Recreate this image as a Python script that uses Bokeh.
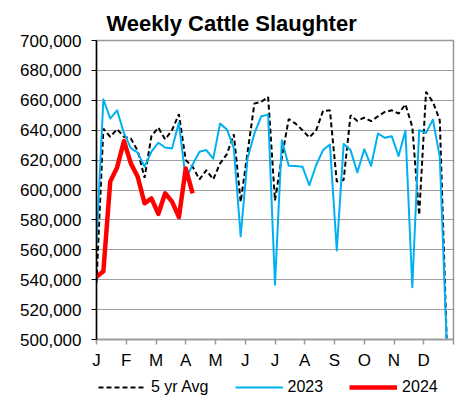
import numpy as np
from bokeh.plotting import figure
from bokeh.layouts import column
from bokeh.models import (ColumnDataSource, FixedTicker, NumeralTickFormatter,
                          Legend, LegendItem, Range1d)
from bokeh.embed import file_html
from bokeh.resources import INLINE

# ---------------- data ----------------
weeks = list(range(1, 53))
month_labels = ["J", "F", "M", "A", "M", "J", "J", "A", "S", "O", "N", "D"]

avg_5yr = [538000, 641000, 635600, 640700, 635600, 634400, 626200, 608200, 636000, 641800,
           633800, 640000, 650700, 620000, 615600, 607100, 613300, 607100, 617800, 624000,
           637300, 592000, 625000, 657800, 659000, 662200, 593000, 622000, 647500, 644400,
           640000, 635100, 640000, 652900, 653300, 605600, 606700, 650000, 646200, 648400,
           646000, 649300, 652200, 653300, 651100, 657300, 642200, 583300, 665600, 658900,
           646700, 501000]

y2023 = [564000, 660700, 647800, 653300, 638000, 628000, 625000, 615600, 625600, 631600,
         628400, 627800, 645000, 607000, 617000, 625600, 626700, 621000, 644400, 640500,
         628000, 569000, 621000, 637800, 649300, 650400, 536700, 633300, 616200, 616000,
         615600, 603300, 616700, 626700, 630400, 559600, 630700, 626700, 611800, 627300,
         616200, 637800, 634900, 636000, 622700, 639600, 534900, 640000, 638200, 647100,
         622200, 499000]

y2024 = [542000, 545600, 605600, 615100, 632700, 617800, 608900, 591100, 594400, 584000,
         597800, 592200, 581800, 614400, 597800]

series_labels = ["5 yr Avg", "2023", "2024"]
y_ticks = list(range(500000, 700001, 20000))

FONT = "Liberation Sans"
STYLES = [dict(line_color="black", line_width=2, line_dash="5 3"),
          dict(line_color="#00B0F0", line_width=2, line_join="round"),
          dict(line_color="#FF0000", line_width=4.5, line_join="round")]

# week number -> month-based position (0 = start of Jan, 12 = end of Dec)
def week_pos(w):
    return (np.asarray(w, dtype=float) - 1.0) * 12.0 / 52.0

src_avg = ColumnDataSource(dict(x=week_pos(weeks), y=avg_5yr))
src_23 = ColumnDataSource(dict(x=week_pos(weeks), y=y2023))
src_24 = ColumnDataSource(dict(x=week_pos(weeks[:len(y2024)]), y=y2024))
sources = [src_avg, src_23, src_24]

p = figure(width=462, height=372, output_backend="svg", toolbar_location=None,
           x_range=Range1d(0, 12), y_range=Range1d(500000, 700000),
           min_border_left=96, min_border_right=9, min_border_top=40,
           min_border_bottom=32)

# title
p.title.text = "Weekly Cattle Slaughter"
p.title.align = "left"
p.title.offset = 10
p.title.text_font = FONT
p.title.text_font_size = "22px"
p.title.text_font_style = "bold"
p.title.text_color = "black"
p.title.standoff = 10

p.background_fill_color = "white"
p.border_fill_color = "white"
p.outline_line_color = "#999999"
p.outline_line_width = 1.5

# lines
for src, st in zip(sources, STYLES):
    p.line("x", "y", source=src, **st)

# y axis
p.yaxis.ticker = FixedTicker(ticks=y_ticks)
p.yaxis.formatter = NumeralTickFormatter(format="0,0")
p.yaxis.major_label_text_font = FONT
p.yaxis.major_label_text_font_size = "17px"
p.yaxis.major_label_text_color = "black"
p.yaxis.axis_line_color = "black"
p.yaxis.axis_line_width = 1.5
p.yaxis.major_tick_line_color = "black"
p.yaxis.major_tick_in = 0
p.yaxis.major_tick_out = 5
p.yaxis.minor_tick_line_color = None
p.yaxis.major_label_standoff = 10

# x axis
p.xaxis.ticker = FixedTicker(ticks=list(range(0, 13)))
overrides = {i: month_labels[i] for i in range(12)}
overrides[12] = ""
p.xaxis.major_label_overrides = overrides
p.xaxis.major_label_text_font = FONT
p.xaxis.major_label_text_font_size = "17px"
p.xaxis.major_label_text_color = "black"
p.xaxis.axis_line_color = "#999999"
p.xaxis.axis_line_width = 1.5
p.xaxis.major_tick_line_color = "#999999"
p.xaxis.major_tick_line_width = 1.5
p.xaxis.major_tick_in = 0
p.xaxis.major_tick_out = 5
p.xaxis.minor_tick_line_color = None
p.xaxis.major_label_standoff = 6

# grid
p.xgrid.grid_line_color = None
p.ygrid.grid_line_color = "#404040"
p.ygrid.grid_line_dash = "1 1"
p.ygrid.grid_line_width = 1

# ---------------- legend strip (separate small figure) ----------------
leg = figure(width=462, height=28, output_backend="svg", toolbar_location=None,
             x_range=Range1d(0, 1), y_range=Range1d(0, 1),
             min_border_left=96, min_border_right=9, min_border_top=0,
             min_border_bottom=0)
leg.axis.visible = False
leg.grid.grid_line_color = None
leg.outline_line_color = None
leg.background_fill_color = "white"
leg.border_fill_color = "white"

items = []
for lab, src, st in zip(series_labels, sources, STYLES):
    # same series, lying outside this strip's range: only its legend swatch shows
    r = leg.line("x", "y", source=src, **st)
    items.append(LegendItem(label=lab, renderers=[r]))

legend = Legend(items=items, orientation="horizontal", location=(2, 4),
                padding=2, spacing=26, margin=0,
                glyph_width=48, glyph_height=16, label_height=16,
                label_standoff=5,
                label_text_font=FONT, label_text_font_size="16px",
                label_text_color="black",
                border_line_color=None, background_fill_alpha=0)
leg.add_layout(legend)

layout = column(p, leg, spacing=0)

open("out.html", "w").write(file_html(layout, INLINE))
